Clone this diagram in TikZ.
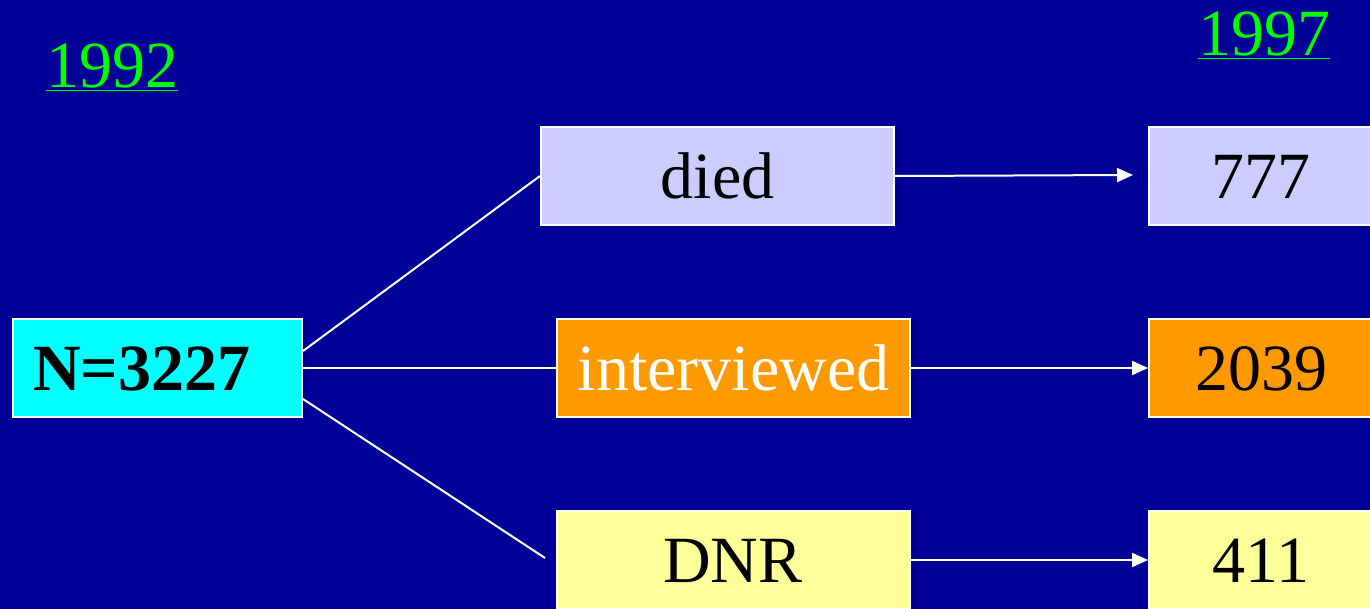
\documentclass[tikz,border=0pt]{standalone}
\usepackage{fontspec}
\setmainfont{Liberation Serif}
\usetikzlibrary{arrows.meta,calc}
\definecolor{bg}{HTML}{000099}
\definecolor{cyanbox}{HTML}{00FFFF}
\definecolor{lilac}{HTML}{CCCCFF}
\definecolor{orangebox}{HTML}{FF9900}
\definecolor{paleyellow}{HTML}{FFFF99}
\definecolor{brightgreen}{HTML}{00FF00}
\tikzset{
  box/.style={draw=white, line width=2pt, minimum height=98pt, inner sep=0pt, font=\fontsize{66}{72}\selectfont},
  boxtext/.style={font=\fontsize{66}{72}\selectfont, inner sep=0pt},
  link/.style={draw=white, line width=2pt},
  arr/.style={link, -{Triangle[length=16pt,width=14pt]}},
  year/.style={text=brightgreen, font=\fontsize{66}{72}\selectfont, inner sep=0pt}
}
\begin{document}
\begin{tikzpicture}[x=1pt,y=-1pt]
\useasboundingbox (0,0) rectangle (1370,609);
\fill[bg] (0,0) rectangle (1370,609);
\begin{scope}
\clip (0,0) rectangle (1370,609);
\node[box, fill=cyanbox, minimum width=289pt, anchor=north west] (n) at (12,318) {};
\node[boxtext, anchor=west, font=\fontsize{66}{72}\selectfont\bfseries] (nt) at (33,369) {N=3227};
\node[box, fill=lilac, minimum width=353pt, anchor=north west] (died) at (540,126) {died};
\node[box, fill=orangebox, text=white, minimum width=353pt, anchor=north west] (int) at (556,318) {interviewed};
\node[box, fill=paleyellow, minimum width=353pt, anchor=north west] (dnr) at (556,510) {};
\node[boxtext] (dnrt) at (733,561) {DNR};
\node[box, fill=lilac, minimum width=240pt, anchor=north west] (r1) at (1148,126) {};
\node[boxtext] (r1t) at (1261,177) {777};
\node[box, fill=orangebox, minimum width=240pt, anchor=north west] (r2) at (1148,318) {};
\node[boxtext] (r2t) at (1261,369) {2039};
\node[box, fill=paleyellow, minimum width=240pt, anchor=north west] (r3) at (1148,510) {};
\node[boxtext] (r3t) at (1261,561) {411};
\end{scope}
\coordinate (dnrend) at (545,558);
\draw[link] ([yshift=17pt]n.east) -- (died.west);
\draw[link] (n.east) -- (int.west);
\draw[link] ([yshift=-31pt]n.east) -- (dnrend);
\draw[arr] (died.east) -- (1133,175) coordinate (a1);
\draw[arr] (int.east) -- ($(r2.north west)!0.5!(r2.south west)$);
\draw[arr] ($(dnr.north east)!0.5!(dnr.south east)$) -- ($(r3.north west)!0.5!(r3.south west)$);
\node[year, anchor=base] (y1) at (112,88) {\underline{1992}};
\node[year, anchor=base] (y2) at (1264,56) {\underline{1997}};
\end{tikzpicture}
\end{document}
